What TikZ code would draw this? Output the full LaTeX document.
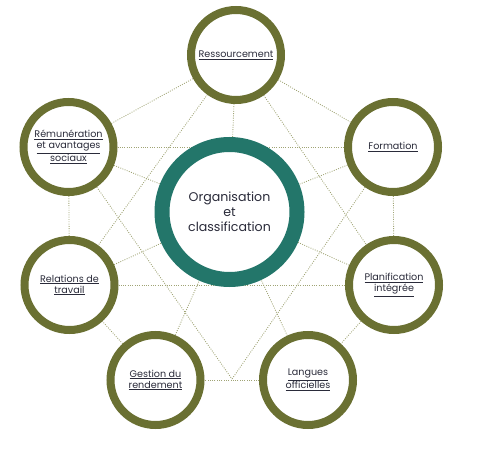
\documentclass[tikz,border=0pt]{standalone}
\usepackage{fontspec}
\setmainfont{Poppins}
\usetikzlibrary{backgrounds}
\definecolor{ringolive}{HTML}{6A7032}
\definecolor{ringteal}{HTML}{23766A}
\definecolor{dotline}{HTML}{A0A475}
\definecolor{labelink}{HTML}{2A2B3A}
\newcommand{\ul}[1]{\underline{#1}}
\begin{document}
\begin{tikzpicture}[x=1pt,y=-1pt,
  unit/.style={circle, draw=ringolive, line width=8pt, fill=white,
    minimum size=90pt, inner sep=0pt, align=center, text=labelink,
    font=\fontsize{9.6}{11}\selectfont},
  hub/.style={circle, draw=ringteal, line width=15pt, fill=white,
    minimum size=135pt, inner sep=0pt, align=center, text=labelink,
    font=\fontsize{12.6}{15}\selectfont},
  link/.style={draw=dotline, line width=0.85pt, dash pattern=on 0.9pt off 1.4pt}]
\useasboundingbox (0,0) rectangle (486,449);

% central unit
\node[hub] (org) at (229.5,212) {Organisation\\et\\classification};

% surrounding units
\node[unit] (res)  at (236,55)    {\ul{Ressourcement}};
\node[unit] (form) at (393,147)   {\ul{Formation}};
\node[unit] (plan) at (394,285)   {\ul{Planification}\\\ul{intégrée}};
\node[unit] (lang) at (308,380)   {\fontsize{9.6}{9.3}\selectfont\ul{Langues}\\\ul{officielles}};
\node[unit] (gest) at (155.5,380) {\ul{Gestion du}\\\ul{rendement}};
\node[unit] (rel)  at (69.5,285)  {\fontsize{9.6}{12}\selectfont\ul{Relations de}\\\ul{travail}};
\node[unit] (rem)  at (68.5,147)  {\fontsize{9.6}{9.2}\selectfont\ul{Rémunération}\\\ul{et avantages}\\\ul{sociaux}};

\coordinate (v) at (232,379);

\begin{scope}[on background layer]
  % outer ring
  \draw[link] (res) -- (form);
  \draw[link] (form) -- (plan);
  \draw[link] (plan) -- (lang);
  \draw[link] (lang) -- (gest);
  \draw[link] (gest) -- (rel);
  \draw[link] (rel) -- (rem);
  \draw[link] (rem) -- (res);
  % spokes to the centre
  \foreach \u in {res,form,plan,lang,gest,rel,rem}
    \draw[link] (\u) -- (org);
  % cross links
  \draw[link] (res) -- (rel);
  \draw[link] (res) -- (plan);
  \draw[link] (rem) -- (form);
  \draw[link] (rel) -- (plan);
  \draw[link] (rem) -- (v);
  \draw[link] (form) -- (v);
\end{scope}
\end{tikzpicture}
\end{document}
